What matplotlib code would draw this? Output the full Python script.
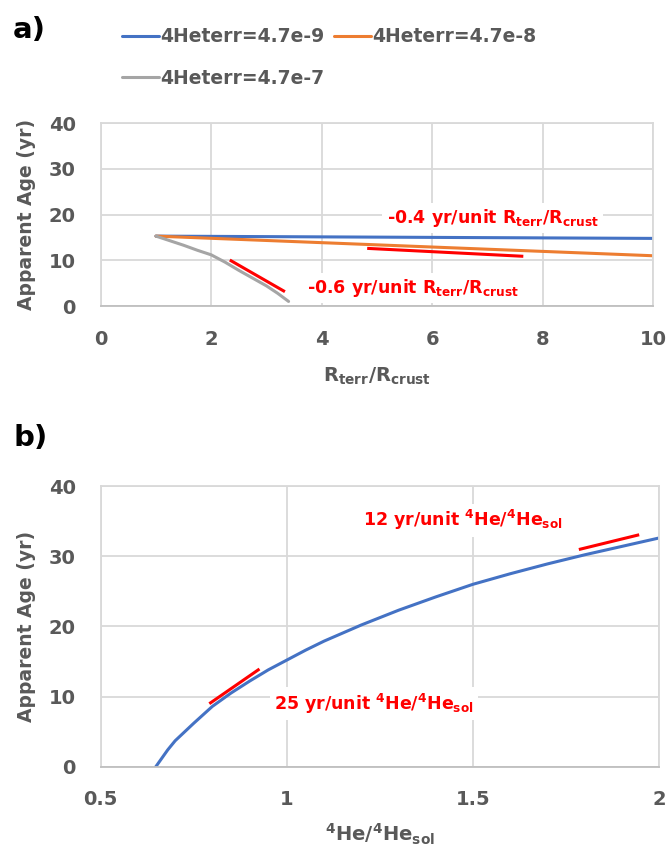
import matplotlib.pyplot as plt

plt.rcParams['font.family'] = ['DejaVu Sans']
plt.rcParams['font.weight'] = 'bold'
plt.rcParams['axes.labelweight'] = 'bold'
plt.rcParams['mathtext.fontset'] = 'dejavusans'
plt.rcParams['mathtext.default'] = 'bf'

# panel a data
ratio_lo = [1, 10]
age_lo = [15.3, 14.8]
ratio_mid = [1, 10]
age_mid = [15.3, 11.0]
ratio_hi = [1, 1.25, 1.5, 1.75, 2, 2.25, 2.5, 2.75, 3, 3.2, 3.4]
age_hi = [15.3, 14.3, 13.3, 12.2, 11.2, 9.6, 7.8, 6.1, 4.4, 2.8, 1.0]
legend_labels = ['4Heterr=4.7e-9', '4Heterr=4.7e-8', '4Heterr=4.7e-7']
slope_a1_x = [2.36, 3.31]
slope_a1_y = [9.9, 3.3]
slope_a2_x = [4.85, 7.62]
slope_a2_y = [12.6, 10.9]

# panel b data
he_ratio = [0.648, 0.66, 0.68, 0.70, 0.72, 0.75, 0.8, 0.85, 0.9, 0.95, 1.0, 1.05,
            1.1, 1.2, 1.3, 1.4, 1.5, 1.6, 1.7, 1.8, 1.9, 2.0]
he_age = [0.0, 0.9, 2.4, 3.7, 4.7, 6.2, 8.6, 10.5, 12.2, 13.8, 15.2, 16.6,
          17.9, 20.2, 22.3, 24.2, 26.0, 27.5, 28.9, 30.2, 31.4, 32.6]
slope_b1_x = [0.795, 0.923]
slope_b1_y = [9.1, 13.8]
slope_b2_x = [1.788, 1.942]
slope_b2_y = [31.0, 33.0]

txtgray = '#595959'
gridc = '#D9D9D9'
blue, orange, gray = '#4472C4', '#ED7D31', '#A5A5A5'

fig = plt.figure(figsize=(6.68, 8.55), dpi=100)
axa = fig.add_axes([100.7/668, 1-306/855, 552.6/668, 182.7/855])
axb = fig.add_axes([100.7/668, 1-766.7/855, 558.6/668, 280.7/855])

def style(ax):
    ax.grid(True, color=gridc, linewidth=1.3)
    ax.set_axisbelow(True)
    for s in ax.spines.values():
        s.set_color(gridc)
        s.set_linewidth(1.3)
    ax.spines['bottom'].set_color('#BFBFBF')
    ax.tick_params(length=0, labelsize=14, labelcolor=txtgray)
    ax.tick_params(axis='x', pad=17)
    ax.tick_params(axis='y', pad=18)
    ax.set_ylabel('Apparent Age (yr)', fontsize=13.5, color=txtgray, labelpad=9)

l1, = axa.plot(ratio_lo, age_lo, color=blue, lw=2.2, solid_capstyle='round')
l2, = axa.plot(ratio_mid, age_mid, color=orange, lw=2.2, solid_capstyle='round')
l3, = axa.plot(ratio_hi, age_hi, color=gray, lw=2.2, solid_capstyle='round')
axa.plot(slope_a1_x, slope_a1_y, color='red', lw=2.2)
axa.plot(slope_a2_x, slope_a2_y, color='red', lw=2.2)
axa.set_xlim(0, 10)
axa.set_ylim(0, 40)
axa.set_xticks([0, 2, 4, 6, 8, 10])
axa.set_yticks([0, 10, 20, 30, 40])
style(axa)
axa.set_xlabel('R$_{terr}$/R$_{crust}$', fontsize=14, color=txtgray, labelpad=12)
box = dict(facecolor='white', edgecolor='none', pad=3)
axa.text(7.09, 19.3, '-0.4 yr/unit R$_{terr}$/R$_{crust}$', color='red', fontsize=12.5,
         ha='center', va='center', bbox=box)
axa.text(5.65, 3.9, '-0.6 yr/unit R$_{terr}$/R$_{crust}$', color='red', fontsize=12.5,
         ha='center', va='center', bbox=box)

axb.plot(he_ratio, he_age, color=blue, lw=2.2)
axb.plot(slope_b1_x, slope_b1_y, color='red', lw=2.2)
axb.plot(slope_b2_x, slope_b2_y, color='red', lw=2.2)
axb.set_xlim(0.5, 2)
axb.set_ylim(0, 40)
axb.set_xticks([0.5, 1, 1.5, 2])
axb.set_xticklabels(['0.5', '1', '1.5', '2'])
axb.set_yticks([0, 10, 20, 30, 40])
style(axb)
axb.set_xlabel('$^{4}$He/$^{4}$He$_{sol}$', fontsize=14, color=txtgray, labelpad=9)
axb.text(1.473, 35.1, '12 yr/unit $^{4}$He/$^{4}$He$_{sol}$', color='red', fontsize=12.5,
         ha='center', va='center', bbox=box)
axb.text(1.233, 9.0, '25 yr/unit $^{4}$He/$^{4}$He$_{sol}$', color='red', fontsize=12.5,
         ha='center', va='center', bbox=box)

# column-major fill: first column e-9, e-7; second column e-8
leg = fig.legend([l1, l3, l2], [legend_labels[0], legend_labels[2], legend_labels[1]],
                 loc='upper left', ncol=2,
                 bbox_to_anchor=(114/668, 1-20/855), frameon=False, fontsize=13.5,
                 handlelength=2.0, handletextpad=0.05, columnspacing=0.5,
                 labelspacing=1.2, borderaxespad=0)
for t in leg.get_texts():
    t.set_color(txtgray)

fig.text(13/668, 1-30/855, 'a)', fontsize=21, color='black', va='center', ha='left')
fig.text(13/668, 1-438/855, 'b)', fontsize=21, color='black', va='center', ha='left')

fig.savefig('out.png', dpi=100)
